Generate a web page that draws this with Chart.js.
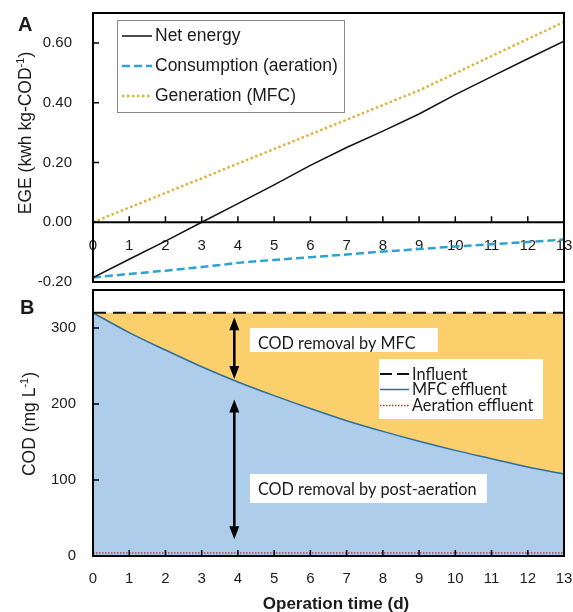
<!DOCTYPE html>
<html>
<head>
<meta charset="utf-8">
<script src="https://cdn.jsdelivr.net/npm/chart.js@4.4.1/dist/chart.umd.min.js"></script>
<style>
  html, body { margin: 0; padding: 0; background: #fff; }
  #wrap { position: relative; width: 573px; height: 612px; overflow: hidden; }
  #paneA { position: absolute; left: 0; top: 0; }
  #paneB { position: absolute; left: 0; top: 287px; }
</style>
</head>
<body>
<div id="wrap">
  <canvas id="paneA" width="573" height="287"></canvas>
  <canvas id="paneB" width="573" height="325"></canvas>
</div>
<script>
// ---- Operation days (shared x axis) ----
const days = [0, 1, 2, 3, 4, 5, 6, 7, 8, 9, 10, 11, 12, 13];
const dayTicks = [0, 1, 2, 3, 4, 5, 6, 7, 8, 9, 10, 11, 12, 13];

// ---- Panel A: energy balance, kWh per kg COD ----
const netEnergy   = [-0.185, -0.124, -0.063, 0.000, 0.062, 0.125, 0.190, 0.250, 0.305, 0.362, 0.427, 0.487, 0.547, 0.606];
const consumption = [-0.185, -0.173, -0.162, -0.150, -0.136, -0.126, -0.117, -0.108, -0.098, -0.090, -0.081, -0.074, -0.066, -0.058];
const generation  = [0.000, 0.049, 0.098, 0.147, 0.196, 0.245, 0.294, 0.343, 0.392, 0.441, 0.498, 0.556, 0.613, 0.670];
const egeTicks = [-0.2, 0, 0.2, 0.4, 0.6];

// ---- Panel B: COD, mg per L ----
const influent         = [320, 320, 320, 320, 320, 320, 320, 320, 320, 320, 320, 320, 320, 320];
const mfcEffluent      = [320, 294, 271, 249, 229, 211, 194, 178, 164, 151, 139, 128, 117, 108];
const aerationEffluent = [4, 4, 4, 4, 4, 4, 4, 4, 4, 4, 4, 4, 4, 4];
const codTicks = [0, 100, 200, 300];

// ---- annotation anchors (data units) ----
const arrowDay = 3.9;
const mfcArrow = [314, 233];
const aerationArrow = [206, 22];
const removalNotes = [
  { text: 'COD removal by MFC', day: 4.33, top: 300, w: 188, h: 24 },
  { text: 'COD removal by post-aeration', day: 4.33, top: 108, w: 237, h: 29 }
];

const SANS = "'Liberation Sans', Arial, sans-serif";
const LATO = "Lato, 'Open Sans', sans-serif";
const INK = '#1b1b1b';

const pts = ys => days.map((d, i) => ({ x: d, y: ys[i] }));

// keep the plot frame exactly where the layout padding puts it
const noEdgePadding = s => { s.paddingTop = 0; s.paddingBottom = 0; s.paddingLeft = 0; s.paddingRight = 0; };

function drawTitle(ctx, bx, cy, parts, size, bold) {
  // rotated axis title with optional superscript parts; bx = baseline x, cy = centre y
  ctx.save();
  ctx.translate(bx, cy);
  ctx.rotate(-Math.PI / 2);
  const w = bold ? 'bold ' : '';
  const main = `${w}${size}px ${SANS}`;
  const sup = `${w}${Math.round(size * 0.62)}px ${SANS}`;
  let total = 0;
  parts.forEach(p => { ctx.font = p.sup ? sup : main; p.w = ctx.measureText(p.t).width; total += p.w; });
  let x = -total / 2;
  ctx.fillStyle = INK;
  ctx.textBaseline = 'alphabetic';
  parts.forEach(p => {
    ctx.font = p.sup ? sup : main;
    ctx.fillText(p.t, x, p.sup ? -size * 0.4 : 0);
    x += p.w;
  });
  ctx.restore();
}

function frameAndTicks(chart, xTickY) {
  const { ctx, chartArea: a, scales } = chart;
  ctx.save();
  ctx.strokeStyle = '#000';
  ctx.lineWidth = 2;
  ctx.strokeRect(a.left, a.top, a.right - a.left, a.bottom - a.top);
  ctx.lineWidth = 1.5;
  ctx.beginPath();
  dayTicks.forEach(v => {
    const px = scales.x.getPixelForValue(v);
    ctx.moveTo(px, xTickY); ctx.lineTo(px, xTickY - 6);
  });
  scales.y.ticks.forEach(t => {
    const py = scales.y.getPixelForValue(t.value);
    ctx.moveTo(a.left, py); ctx.lineTo(a.left + 6, py);
  });
  ctx.stroke();
  ctx.restore();
}

function sampleLine(ctx, ds, x1, x2, y, dash) {
  ctx.save();
  ctx.strokeStyle = ds.borderColor;
  ctx.lineWidth = ds.borderWidth;
  ctx.setLineDash(dash || ds.borderDash || []);
  ctx.beginPath();
  ctx.moveTo(x1, y); ctx.lineTo(x2, y);
  ctx.stroke();
  ctx.restore();
}

// ---------------- Panel A ----------------
const panelADecor = {
  id: 'panelADecor',
  afterDatasetsDraw(chart) {
    const { ctx, chartArea: a, scales } = chart;
    const y0 = scales.y.getPixelForValue(0);
    ctx.save();
    ctx.strokeStyle = '#000';
    ctx.lineWidth = 2;
    ctx.beginPath();
    ctx.moveTo(a.left, y0); ctx.lineTo(a.right, y0);
    ctx.stroke();
    ctx.restore();
    frameAndTicks(chart, y0);
  },
  afterDraw(chart) {
    const { ctx, chartArea: a } = chart;
    // legend
    const lx = a.left + 24, ly = a.top + 7, lw = 227, lh = 92;
    ctx.save();
    ctx.fillStyle = '#fff';
    ctx.fillRect(lx, ly, lw, lh);
    ctx.strokeStyle = '#8a8a8a';
    ctx.lineWidth = 1;
    ctx.strokeRect(lx + 0.5, ly + 0.5, lw, lh);
    ctx.font = `17.5px ${SANS}`;
    ctx.fillStyle = INK;
    ctx.textBaseline = 'middle';
    chart.data.datasets.forEach((ds, i) => {
      const ry = ly + 16 + i * 30;
      sampleLine(ctx, ds, lx + 5, lx + 35, ry);
      ctx.fillText(ds.label, lx + 38, ry);
    });
    // panel letter
    ctx.font = `bold 20px ${SANS}`;
    ctx.textBaseline = 'alphabetic';
    ctx.fillText('A', 18, 31);
    ctx.restore();
    drawTitle(ctx, 31, 133, [{ t: 'EGE (kwh kg-COD' }, { t: '-1', sup: true }, { t: ')' }], 17.5);
  }
};

new Chart(document.getElementById('paneA'), {
  type: 'line',
  data: {
    datasets: [
      { label: 'Net energy', data: pts(netEnergy), borderColor: '#111', borderWidth: 1.5, pointRadius: 0 },
      { label: 'Consumption (aeration)', data: pts(consumption), borderColor: '#2ea3d3', borderWidth: 2.5, borderDash: [8, 4], pointRadius: 0 },
      { label: 'Generation (MFC)', data: pts(generation), borderColor: '#e0b23c', borderWidth: 2.5, borderDash: [2.5, 2.5], pointRadius: 0 }
    ]
  },
  options: {
    responsive: false,
    animation: false,
    devicePixelRatio: 1,
    layout: { autoPadding: false, padding: { left: 0, top: 13, right: 9, bottom: 5 } },
    plugins: { legend: { display: false }, tooltip: { enabled: false } },
    scales: {
      x: {
        type: 'linear', min: 0, max: 13, position: { y: 0 }, z: 1,
        afterBuildTicks: s => { s.ticks = dayTicks.map(v => ({ value: v })); },
        afterFit: noEdgePadding,
        grid: { display: false, drawTicks: false }, border: { display: false },
        ticks: {
          font: { family: SANS, size: 15 }, color: INK, padding: 15, maxRotation: 0, autoSkip: false,
          showLabelBackdrop: true, backdropColor: '#fff', backdropPadding: { x: 2, y: 0 }
        }
      },
      y: {
        min: -0.2, max: 0.7,
        afterBuildTicks: s => { s.ticks = egeTicks.map(v => ({ value: v })); },
        afterFit: s => { s.width = 93; noEdgePadding(s); },
        grid: { display: false, drawTicks: false }, border: { display: false },
        ticks: { font: { family: SANS, size: 15 }, color: INK, padding: 21, callback: v => Number(v).toFixed(2) }
      }
    }
  },
  plugins: [panelADecor]
});

// ---------------- Panel B ----------------
function arrow(ctx, x, yTop, yBot) {
  const hl = 13, hw = 5;
  ctx.save();
  ctx.strokeStyle = '#000';
  ctx.fillStyle = '#000';
  ctx.lineWidth = 2.6;
  ctx.beginPath();
  ctx.moveTo(x, yTop + hl - 1); ctx.lineTo(x, yBot - hl + 1);
  ctx.stroke();
  ctx.beginPath();
  ctx.moveTo(x, yTop); ctx.lineTo(x - hw, yTop + hl); ctx.lineTo(x + hw, yTop + hl); ctx.closePath();
  ctx.moveTo(x, yBot); ctx.lineTo(x - hw, yBot - hl); ctx.lineTo(x + hw, yBot - hl); ctx.closePath();
  ctx.fill();
  ctx.restore();
}

const NOTE_FONT = `16.3px ${LATO}`;

const panelBDecor = {
  id: 'panelBDecor',
  afterDatasetsDraw(chart) {
    const { ctx, chartArea: a, scales } = chart;
    frameAndTicks(chart, a.bottom);
    const ax = scales.x.getPixelForValue(arrowDay);
    arrow(ctx, ax, scales.y.getPixelForValue(mfcArrow[0]), scales.y.getPixelForValue(mfcArrow[1]));
    arrow(ctx, ax, scales.y.getPixelForValue(aerationArrow[0]), scales.y.getPixelForValue(aerationArrow[1]));
    ctx.save();
    ctx.font = NOTE_FONT;
    ctx.textBaseline = 'alphabetic';
    removalNotes.forEach(n => {
      const bx = scales.x.getPixelForValue(n.day);
      const by = scales.y.getPixelForValue(n.top);
      ctx.fillStyle = '#fff';
      ctx.fillRect(bx, by, n.w, n.h);
      ctx.fillStyle = INK;
      ctx.fillText(n.text, bx + 8, by + 21);
    });
    ctx.restore();
  },
  afterDraw(chart) {
    const { ctx, chartArea: a } = chart;
    const lx = a.right - 185, ly = a.top + 69, lw = 164, lh = 60;
    ctx.save();
    ctx.fillStyle = '#fff';
    ctx.fillRect(lx, ly, lw, lh);
    ctx.font = NOTE_FONT;
    ctx.textBaseline = 'alphabetic';
    ctx.fillStyle = INK;
    const base = [20.5, 36, 52];
    const sampleDash = [[12, 5], null, [1.5, 1.5]];
    chart.data.datasets.forEach((ds, i) => {
      const b = ly + base[i];
      sampleLine(ctx, ds, lx + 1, lx + 30, b - 5.5, sampleDash[i]);
      ctx.fillText(ds.label, lx + 33, b);
    });
    ctx.font = `bold 20px ${SANS}`;
    ctx.fillText('B', 20, 26.5);
    ctx.font = `bold 17px ${SANS}`;
    ctx.textAlign = 'center';
    ctx.fillText('Operation time (d)', 336, 322);
    ctx.restore();
    drawTitle(ctx, 35, 137, [{ t: 'COD (mg L' }, { t: '-1', sup: true }, { t: ')' }], 17.5);
  }
};

new Chart(document.getElementById('paneB'), {
  type: 'line',
  data: {
    datasets: [
      { label: 'Influent', data: pts(influent), borderColor: '#111', borderWidth: 2, borderDash: [13, 7], pointRadius: 0, fill: '+1', backgroundColor: '#fbd06c' },
      { label: 'MFC effluent', data: pts(mfcEffluent), borderColor: '#2c6e9e', borderWidth: 1.5, pointRadius: 0, fill: 'origin', backgroundColor: '#aecdea', cubicInterpolationMode: 'monotone' },
      { label: 'Aeration effluent', data: pts(aerationEffluent), borderColor: '#c0392b', borderWidth: 1.5, borderDash: [1.5, 1.5], pointRadius: 0 }
    ]
  },
  options: {
    responsive: false,
    animation: false,
    devicePixelRatio: 1,
    layout: { autoPadding: false, padding: { left: 0, top: 3, right: 9, bottom: 0 } },
    plugins: { legend: { display: false }, tooltip: { enabled: false }, filler: { drawTime: 'beforeDatasetsDraw' } },
    scales: {
      x: {
        type: 'linear', min: 0, max: 13, position: 'bottom',
        afterBuildTicks: s => { s.ticks = dayTicks.map(v => ({ value: v })); },
        afterFit: s => { s.height = 56; noEdgePadding(s); },
        grid: { display: false, drawTicks: false }, border: { display: false },
        ticks: { font: { family: SANS, size: 15 }, color: INK, padding: 14, maxRotation: 0, autoSkip: false }
      },
      y: {
        min: 0, max: 350,
        afterBuildTicks: s => { s.ticks = codTicks.map(v => ({ value: v })); },
        afterFit: s => { s.width = 93; noEdgePadding(s); },
        grid: { display: false, drawTicks: false }, border: { display: false },
        ticks: { font: { family: SANS, size: 15 }, color: INK, padding: 17 }
      }
    }
  },
  plugins: [panelBDecor]
});
</script>
</body>
</html>
